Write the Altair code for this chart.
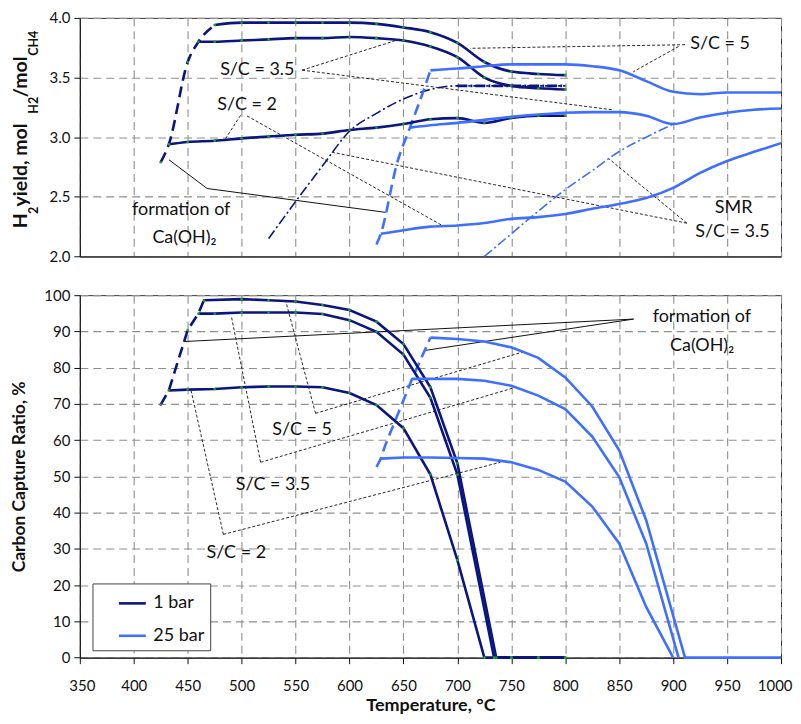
import altair as alt
import pandas as pd

NAVY = "#0B1580"
BLUE = "#3F6FFF"
GREEN = "#1FA01F"
FONT = "Lato"

# ---------------- H2 yield panel (top) ----------------
# 1 bar
h2_1bar_sc5_T = [475, 500, 525, 550, 575, 600, 625, 650, 675, 700, 725, 750, 775, 800]
h2_1bar_sc5 = [3.94, 3.96, 3.96, 3.96, 3.96, 3.96, 3.95, 3.92, 3.88, 3.79, 3.63, 3.55, 3.53, 3.52]
h2_1bar_sc35_T = [460, 475, 500, 525, 550, 575, 600, 625, 650, 675, 700, 725, 750, 775, 800]
h2_1bar_sc35 = [3.80, 3.80, 3.81, 3.82, 3.83, 3.83, 3.84, 3.83, 3.81, 3.76, 3.67, 3.50, 3.43, 3.41, 3.40]
h2_1bar_sc2_T = [432.5, 450, 475, 500, 525, 550, 575, 600, 625, 650, 675, 700, 725, 750, 775, 800]
h2_1bar_sc2 = [2.94, 2.96, 2.97, 2.99, 3.005, 3.02, 3.03, 3.06, 3.08, 3.11, 3.15, 3.16, 3.12, 3.16, 3.18, 3.18]
h2_1bar_caoh_T = [425, 432.5, 450, 460, 475]
h2_1bar_caoh = [2.79, 2.94, 3.63, 3.80, 3.94]
h2_1bar_smr_T = [525, 550, 575, 600, 625, 650, 675, 700, 725, 750, 775, 800]
h2_1bar_smr = [2.15, 2.46, 2.76, 3.05, 3.20, 3.32, 3.40, 3.43, 3.43, 3.43, 3.43, 3.43]
# 25 bar
h2_25bar_sc5_T = [675, 700, 725, 750, 775, 800, 825, 850, 875, 900, 925, 950, 975, 1000]
h2_25bar_sc5 = [3.56, 3.575, 3.595, 3.61, 3.61, 3.61, 3.595, 3.56, 3.47, 3.38, 3.36, 3.375, 3.375, 3.375]
h2_25bar_sc35_T = [656, 675, 700, 725, 750, 775, 800, 825, 850, 875, 900, 925, 950, 975, 1000]
h2_25bar_sc35 = [3.08, 3.10, 3.12, 3.145, 3.17, 3.19, 3.205, 3.21, 3.21, 3.18, 3.11, 3.165, 3.205, 3.23, 3.24]
h2_25bar_sc2_T = [629, 650, 675, 700, 725, 750, 775, 800, 825, 850, 875, 900, 925, 950, 975, 1000]
h2_25bar_sc2 = [2.19, 2.22, 2.25, 2.26, 2.28, 2.315, 2.33, 2.356, 2.40, 2.44, 2.49, 2.575, 2.70, 2.80, 2.877, 2.95]
h2_25bar_caoh_T = [625, 629, 644, 656, 669, 675]
h2_25bar_caoh = [2.10, 2.19, 2.78, 3.08, 3.40, 3.56]
h2_25bar_smr_T = [725, 750, 775, 800, 825, 850, 875, 900]
h2_25bar_smr = [2.00, 2.19, 2.38, 2.56, 2.72, 2.88, 3.00, 3.11]

# ---------------- Carbon capture ratio panel (bottom) ----------------
ccr_1bar_sc5_T = [465, 500, 525, 550, 575, 600, 625, 650, 675, 700, 736, 750, 775, 800]
ccr_1bar_sc5 = [98.6, 98.9, 98.6, 98.25, 97.3, 95.9, 92.7, 86.5, 74.6, 53.6, 0, 0, 0, 0]
ccr_1bar_sc35_T = [460, 475, 500, 525, 550, 575, 600, 625, 650, 675, 700, 734, 750, 775, 800]
ccr_1bar_sc35 = [94.9, 94.9, 95.2, 95.2, 95.2, 94.8, 93.1, 89.9, 83.6, 71.7, 50.5, 0, 0, 0, 0]
ccr_1bar_sc2_T = [432.5, 450, 475, 500, 525, 550, 575, 600, 625, 650, 675, 700, 725, 750, 775, 800]
ccr_1bar_sc2 = [73.7, 73.95, 74.1, 74.6, 74.8, 74.8, 74.6, 73.0, 69.7, 63.3, 50.5, 26.9, 0, 0, 0, 0]
ccr_1bar_caoh_T = [425, 432.5, 450, 460, 465]
ccr_1bar_caoh = [69.8, 73.7, 90.4, 95.0, 98.6]
ccr_25bar_sc5_T = [675, 700, 725, 750, 775, 800, 825, 850, 875, 911, 925, 950, 975, 1000]
ccr_25bar_sc5 = [88.3, 87.9, 87.2, 85.6, 82.7, 77.3, 69.3, 57.2, 37.9, 0, 0, 0, 0, 0]
ccr_25bar_sc35_T = [658, 675, 700, 725, 750, 775, 800, 825, 850, 875, 905]
ccr_25bar_sc35 = [76.9, 76.9, 76.9, 76.4, 75.0, 72.3, 68.6, 61.0, 49.8, 31.5, 0]
ccr_25bar_sc2_T = [629, 650, 675, 700, 725, 750, 775, 800, 825, 850, 875, 900]
ccr_25bar_sc2 = [54.9, 55.2, 55.2, 55.1, 54.9, 53.9, 51.8, 48.6, 41.7, 31.5, 14.0, 0]
ccr_25bar_caoh_T = [625, 629, 633, 658, 675]
ccr_25bar_caoh = [52.6, 54.9, 58.5, 76.9, 88.3]

# ---------------- axis ticks ----------------
x_ticks = list(range(350, 1001, 50))
h2_ticks = [2.0, 2.5, 3.0, 3.5, 4.0]
ccr_ticks = list(range(0, 101, 10))

# ---------------- annotations (data units) ----------------
top_dash_T = [556, 556, 499, 505, 911, 905, 912.7, 912.7]
top_dash_v = [3.562, 3.562, 3.183, 3.178, 3.775, 3.76, 2.279, 2.279]
top_dash_T2 = [647, 845, 485, 687.5, 712, 863, 582, 840]
top_dash_v2 = [3.822, 3.228, 2.986, 2.252, 3.745, 3.548, 2.877, 2.822]
top_solid_T = [432.7, 468]
top_solid_v = [2.81, 2.57]
top_solid_T2 = [468, 633.3]
top_solid_v2 = [2.57, 2.37]
top_text = ["S/C = 3.5", "S/C = 2", "S/C = 5", "SMR", "S/C = 3.5", "formation of", "Ca(OH)₂"]
top_text_T = [514.5, 505, 943.5, 956, 955, 444, 447]
top_text_v = [3.562, 3.27, 3.78, 2.41, 2.205, 2.392, 2.154]

bot_dash_T = [568.5, 568.5, 517.6, 517.6, 483.1, 483.1]
bot_dash_v = [67.4, 67.4, 53.9, 53.9, 34.0, 34.0]
bot_dash_T2 = [540.7, 761.5, 490.4, 752, 452.8, 739.8]
bot_dash_v2 = [98.6, 84.4, 94.3, 74.4, 74.1, 53.9]
bot_solid_T = [446, 863.3]
bot_solid_v = [87.2, 93.4]
bot_solid_T2 = [863.3, 668.8]
bot_solid_v2 = [93.4, 84.7]
bot_text = ["S/C = 5", "S/C = 3.5", "S/C = 2", "formation of", "Ca(OH)₂"]
bot_text_T = [556, 529, 495, 926.6, 926.8]
bot_text_v = [62.9, 47.7, 28.95, 94.1, 86.0]


def frame(T, V, name, p=None):
    d = pd.DataFrame({"T": T, "v": V, "series": name})
    if p is not None:
        d["p"] = p
    return d


x_scale = alt.Scale(domain=[350, 1000], nice=False, zero=False)
color_scale = alt.Scale(domain=["1 bar", "25 bar"], range=[NAVY, BLUE])


def panel(ys, y_axis, x_axis, solid, dots, caoh1, caoh25, smr1, smr25,
          dash_segs, solid_segs, texts, smooth, legend, extra, w, h):
    X = alt.X("T:Q", scale=x_scale, axis=x_axis)
    Y = alt.Y("v:Q", scale=ys, axis=y_axis)
    interp = "monotone" if smooth else "linear"
    layers = []
    layers.append(alt.Chart(dash_segs).mark_rule(color="#111", strokeWidth=0.9, strokeDash=[3, 2]).encode(
        x=X, y=Y, x2=alt.X2("T2:Q"), y2=alt.Y2("v2:Q")))
    layers.append(alt.Chart(solid_segs).mark_rule(color="#111", strokeWidth=1).encode(
        x=X, y=Y, x2=alt.X2("T2:Q"), y2=alt.Y2("v2:Q")))
    if smr1 is not None:
        layers.append(alt.Chart(smr1).mark_line(color=NAVY, strokeWidth=1.6, strokeDash=[10, 3, 2, 3],
                                                interpolate=interp).encode(x=X, y=Y))
        layers.append(alt.Chart(smr1).transform_filter(alt.datum.T >= 700).mark_line(
            color=NAVY, strokeWidth=3, strokeDash=[10, 3, 2, 3]).encode(x=X, y=Y))
        layers.append(alt.Chart(smr25).mark_line(color=BLUE, strokeWidth=1.6, strokeDash=[10, 3, 2, 3],
                                                 interpolate=interp).encode(x=X, y=Y))
    layers.append(alt.Chart(caoh1).mark_line(color=NAVY, strokeWidth=2.6, strokeDash=[11, 6],
                                             interpolate=interp).encode(x=X, y=Y))
    layers.append(alt.Chart(caoh25).mark_line(color=BLUE, strokeWidth=2.6, strokeDash=[11, 6],
                                              interpolate=interp).encode(x=X, y=Y))
    layers.append(alt.Chart(solid).mark_line(strokeWidth=2.6, interpolate=interp).encode(
        x=X, y=Y, detail="series:N",
        color=alt.Color("p:N", scale=color_scale, legend=legend)))
    layers.append(alt.Chart(dots).mark_point(filled=True, size=7, color=GREEN, opacity=1).encode(x=X, y=Y))
    layers.append(alt.Chart(texts).mark_text(font=FONT, fontSize=18, color="#111").encode(
        x=X, y=Y, text="t:N"))
    layers.extend(extra)
    return alt.layer(*layers).properties(width=w, height=h)


# ---------- top panel ----------
top_solid_df = pd.concat([
    frame(h2_1bar_sc5_T, h2_1bar_sc5, "1-5", "1 bar"),
    frame(h2_1bar_sc35_T, h2_1bar_sc35, "1-35", "1 bar"),
    frame(h2_1bar_sc2_T, h2_1bar_sc2, "1-2", "1 bar"),
    frame(h2_25bar_sc5_T, h2_25bar_sc5, "25-5", "25 bar"),
    frame(h2_25bar_sc35_T, h2_25bar_sc35, "25-35", "25 bar"),
    frame(h2_25bar_sc2_T, h2_25bar_sc2, "25-2", "25 bar"),
])
top_dots = pd.concat([
    frame(h2_1bar_sc5_T, h2_1bar_sc5, "a"), frame(h2_1bar_sc35_T, h2_1bar_sc35, "b"),
    frame(h2_1bar_sc2_T, h2_1bar_sc2, "c"), frame([425, 450], [2.79, 3.63], "d")])
top_dash = pd.DataFrame({"T": top_dash_T, "v": top_dash_v, "T2": top_dash_T2, "v2": top_dash_v2})
top_solid_seg = pd.DataFrame({"T": top_solid_T, "v": top_solid_v, "T2": top_solid_T2, "v2": top_solid_v2})
top_txt = pd.DataFrame({"T": top_text_T, "v": top_text_v, "t": top_text})

H1 = 239.2
title_x = -58.5
sub_x = -46


def piece(txt, y, sub):
    return alt.Chart(pd.DataFrame({"t": [txt]})).mark_text(
        angle=270, align="left", baseline="middle", font=FONT, fontWeight="bold",
        fontSize=12.5 if sub else 19.5, color="#111").encode(
        x=alt.value(sub_x if sub else title_x), y=alt.value(y), text="t:N")


title_pieces = [piece("H", 211, False), piece("2", 196.5, True), piece(" yield, mol", 189, False),
                piece("H2", 96, True), piece("/mol", 79.5, False), piece("CH4", 38, True)]

top = panel(
    alt.Scale(domain=[2.0, 4.0], nice=False, zero=False),
    alt.Axis(values=h2_ticks, format=".1f", title=None, tickSize=6, labelPadding=4, labelFlush=False),
    alt.Axis(values=x_ticks, labels=False, ticks=False, title=None),
    top_solid_df, top_dots,
    frame(h2_1bar_caoh_T, h2_1bar_caoh, "c1"), frame(h2_25bar_caoh_T, h2_25bar_caoh, "c25"),
    frame(h2_1bar_smr_T, h2_1bar_smr, "s1"), frame(h2_25bar_smr_T, h2_25bar_smr, "s25"),
    top_dash, top_solid_seg, top_txt, True, None, title_pieces, 703, H1)

# ---------- bottom panel ----------
bot_solid_df = pd.concat([
    frame(ccr_1bar_sc5_T, ccr_1bar_sc5, "1-5", "1 bar"),
    frame(ccr_1bar_sc35_T, ccr_1bar_sc35, "1-35", "1 bar"),
    frame(ccr_1bar_sc2_T, ccr_1bar_sc2, "1-2", "1 bar"),
    frame(ccr_25bar_sc5_T, ccr_25bar_sc5, "25-5", "25 bar"),
    frame(ccr_25bar_sc35_T, ccr_25bar_sc35, "25-35", "25 bar"),
    frame(ccr_25bar_sc2_T, ccr_25bar_sc2, "25-2", "25 bar"),
])
bot_dots = pd.concat([
    frame(ccr_1bar_sc5_T, ccr_1bar_sc5, "a"), frame(ccr_1bar_sc35_T, ccr_1bar_sc35, "b"),
    frame(ccr_1bar_sc2_T, ccr_1bar_sc2, "c"), frame([425, 450], [69.8, 90.4], "d")])
bot_dash = pd.DataFrame({"T": bot_dash_T, "v": bot_dash_v, "T2": bot_dash_T2, "v2": bot_dash_v2})
bot_solid_seg = pd.DataFrame({"T": bot_solid_T, "v": bot_solid_v, "T2": bot_solid_T2, "v2": bot_solid_v2})
bot_txt = pd.DataFrame({"T": bot_text_T, "v": bot_text_v, "t": bot_text})

legend = alt.Legend(orient="none", legendX=12.7, legendY=289, title=None, symbolType="stroke",
                    symbolStrokeWidth=2.6, symbolSize=729, labelFontSize=18, labelFont=FONT,
                    labelColor="#111", strokeColor="#444", fillColor="white", padding=5,
                    symbolOffset=20, labelOffset=6, rowPadding=8.5, direction="vertical")

bottom = panel(
    alt.Scale(domain=[0, 100], nice=False),
    alt.Axis(values=ccr_ticks, title="Carbon Capture Ratio, %", tickSize=6, labelPadding=4,
             titlePadding=15, titleFontSize=17.5, labelFlush=False),
    alt.Axis(values=x_ticks, title="Temperature, °C", tickSize=6, labelPadding=14.8, titlePadding=3,
             titleFontSize=18, format="d", labelFlush=True, labelFlushOffset=11),
    bot_solid_df, bot_dots,
    frame(ccr_1bar_caoh_T, ccr_1bar_caoh, "c1"), frame(ccr_25bar_caoh_T, ccr_25bar_caoh, "c25"),
    None, None,
    bot_dash, bot_solid_seg, bot_txt, False, legend, [], 703, 363.4)

chart = alt.vconcat(top, bottom, spacing=22).resolve_scale(color="independent").properties(
    padding={"left": 2, "top": 1, "right": 0, "bottom": 0}
).configure_view(stroke="#333", strokeWidth=1).configure_axis(
    gridColor="#8f8f8f", gridDash=[8, 5], gridWidth=1.1, gridOpacity=1,
    domainColor="#111", tickColor="#111", labelFont=FONT, labelFontSize=15, labelColor="#111",
    titleFont=FONT, titleFontSize=18, titleFontWeight="bold", titleColor="#111"
)

chart.save("out.html", embed_options={"renderer": "svg", "actions": False})
